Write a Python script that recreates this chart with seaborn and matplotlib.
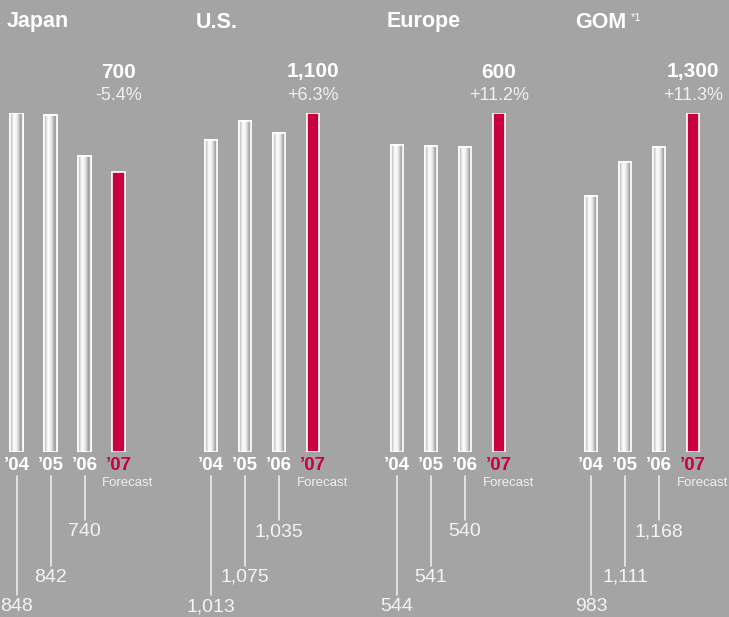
import numpy as np
import pandas as pd
import matplotlib
matplotlib.use("Agg")
import matplotlib.pyplot as plt
import matplotlib.transforms as mtransforms
from matplotlib import font_manager
from matplotlib.colors import LinearSegmentedColormap
import seaborn as sns

# ---- data ----
years = ["’04", "’05", "’06", "’07"]
regions = ["Japan", "U.S.", "Europe", "GOM"]
japan = [848, 842, 740, 700]
us = [1013, 1075, 1035, 1100]
europe = [544, 541, 540, 600]
gom = [983, 1111, 1168, 1300]
value_labels = [["848", "842", "740"], ["1,013", "1,075", "1,035"],
                ["544", "541", "540"], ["983", "1,111", "1,168"]]
forecast_labels = ["700", "1,100", "600", "1,300"]
changes = ["-5.4%", "+6.3%", "+11.2%", "+11.3%"]
series = [japan, us, europe, gom]

sns.set_theme(style="white")
plt.rcParams["font.family"] = ["Liberation Sans", "DejaVu Sans"]

def has_font(name):
    try:
        font_manager.findfont(name, fallback_to_default=False)
        return True
    except Exception:
        return False

narrow = "Liberation Sans Narrow" if has_font("Liberation Sans Narrow") else "Liberation Sans"

BG = "#A4A4A4"
RED = "#C9003F"
W, H = 729, 617
fig = plt.figure(figsize=(W / 100, H / 100), dpi=100, facecolor=BG)

def fy(y):
    return 1 - y / H

grad = LinearSegmentedColormap.from_list(
    "cyl", [(0, "#b0b0b0"), (0.3, "#ffffff"), (0.55, "#ececec"),
            (0.85, "#9a9a9a"), (1, "#c4c4c4")])
gimg = np.linspace(0, 1, 64).reshape(1, -1)

panel_x0 = [16.5, 211, 397, 591]
spacing = 34
bar_bottom, bar_top = 452, 113
title_x = [7, 196, 387, 575]

for i, (name, vals) in enumerate(zip(regions, series)):
    left = panel_x0[i] - spacing / 2
    ax = fig.add_axes([left / W, fy(bar_bottom), 4 * spacing / W,
                       (bar_bottom - bar_top) / H])
    ax.set_facecolor("none")
    df = pd.DataFrame({"year": years, "value": vals})
    sns.barplot(data=df, x="year", y="value", hue="year",
                palette=["#ececec", "#ececec", "#ececec", RED],
                legend=False, width=0.38, edgecolor="white", linewidth=1.2,
                ax=ax, saturation=1)
    ax.set_xlim(-0.5, 3.5)
    ax.set_ylim(0, max(vals))
    ax.axis("off")
    for j, p in enumerate(ax.patches):
        if j < 3:
            x0, y0 = p.get_x(), p.get_y()
            im = ax.imshow(gimg, cmap=grad, aspect="auto",
                           extent=[x0, x0 + p.get_width(), y0, y0 + p.get_height()],
                           zorder=p.get_zorder() + 0.1)
            im.set_clip_path(p)
            edge = plt.Rectangle((x0, y0), p.get_width(), p.get_height(),
                                 fill=False, edgecolor="white", linewidth=1.2,
                                 zorder=p.get_zorder() + 0.2)
            ax.add_patch(edge)
    ax.set_xlim(-0.5, 3.5)
    ax.set_ylim(0, max(vals))

    tr = mtransforms.blended_transform_factory(ax.transData, fig.transFigure)

    # title
    fig.text(title_x[i] / W, fy(22), name, color="white", fontsize=15.5,
             fontweight="bold", ha="left", va="center")
    if name == "GOM":
        fig.text(631 / W, fy(18), "*1", color="white", fontsize=8,
                 ha="left", va="center")

    # forecast headline
    ax.text(3, fy(72), forecast_labels[i], transform=tr, color="white",
            fontsize=15, fontweight="bold", ha="center", va="center")
    ax.text(3, fy(96), changes[i], transform=tr, color="#f0f0f0",
            fontsize=13, ha="center", va="center")

    # year labels
    for j, yr in enumerate(years):
        ax.text(j, fy(466), yr, transform=tr,
                color=(RED if j == 3 else "white"), fontsize=13.5,
                fontweight="bold", ha="center", va="center")
    ax.text(3.28, fy(483.5), "Forecast", transform=tr, color="#f0f0f0",
            fontsize=9.5, family=narrow, ha="center", va="center")

    # leader lines & values
    label_y = [606.5, 577, 532]
    line_end = [595, 566, 520]
    for j in range(3):
        ax.plot([j, j], [fy(476), fy(line_end[j])], transform=tr,
                color="#f4f4f4", lw=1.1, clip_on=False)
        ax.text(j, fy(label_y[j]), value_labels[i][j], transform=tr,
                color="#f4f4f4", fontsize=14, ha="center", va="center")

fig.savefig("out.png", dpi=100, facecolor=BG)
